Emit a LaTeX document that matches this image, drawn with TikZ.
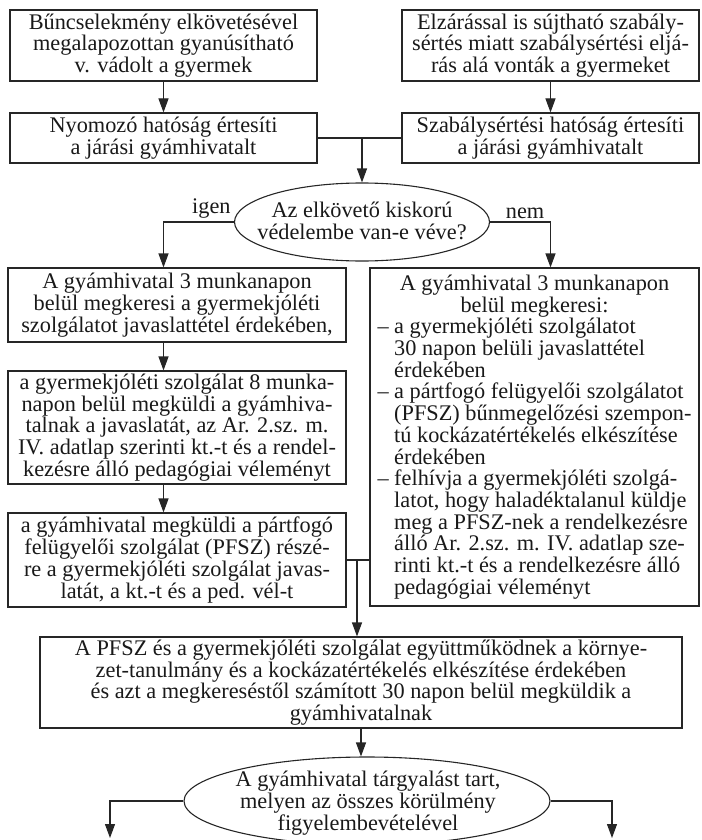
\documentclass[tikz,border=0pt]{standalone}
\usepackage{fontspec}
\setmainfont{Liberation Serif}
\usetikzlibrary{arrows.meta,shapes.geometric}
\newcommand\hind{\hphantom{–\ }}
\begin{document}
\begin{tikzpicture}[x=1pt,y=-1pt,
  every node/.style={font=\fontsize{22.3}{21.7}\selectfont, text=black!90},
  box/.style={draw=black!85, line width=1.1pt, rectangle, inner sep=2pt, align=center},
  oval/.style={draw=black!85, line width=1.1pt, ellipse, inner sep=0pt},
  conn/.style={draw=black!85, line width=1.1pt},
  arr/.style={conn, -{Triangle[length=14pt,width=10pt]}},
  lbl/.style={inner sep=0pt, align=center}
]
\useasboundingbox (0,0) rectangle (701,840);

% top row
\node[box, minimum width=307, minimum height=71] (b1) at (163.5,45.5)
  {Bűncselekmény elkövetésével\\megalapozottan gyanúsítható\\v. vádolt a gyermek};
\node[box, minimum width=307, minimum height=50] (b2) at (163.5,138)
  {Nyomozó hatóság értesíti\\a járási gyámhivatalt};
\node[box, minimum width=297, minimum height=71] (b3) at (550.5,45.5)
  {Elzárással is sújtható szabály-\\sértés miatt szabálysértési eljá-\\rás alá vonták a gyermeket};
\node[box, minimum width=297, minimum height=50] (b4) at (550.5,138)
  {Szabálysértési hatóság értesíti\\a járási gyámhivatalt};

% decision 1
\node[oval, minimum width=255, minimum height=78] (e1) at (362,222) {};
\node[lbl] (e1t) at (362,221) {Az elkövető kiskorú\\védelembe van-e véve?};

% left column
\node[box, minimum width=338, minimum height=74] (b5) at (177,305)
  {A gyámhivatal 3 munkanapon\\belül megkeresi a gyermekjóléti\\szolgálatot javaslattétel érdekében,};
\node[box, minimum width=338, minimum height=113] (b7) at (177,427.5)
  {a gyermekjóléti szolgálat 8 munka-\\napon belül megküldi a gyámhiva-\\talnak a javaslatát, az Ar. 2.sz. m.\\IV. adatlap szerinti kt.-t és a rendel-\\kezésre álló pedagógiai véleményt};
\node[box, minimum width=338, minimum height=94] (b8) at (177,560)
  {a gyámhivatal megküldi a pártfogó\\felügyelői szolgálat (PFSZ) részé-\\re a gyermekjóléti szolgálat javas-\\latát, a kt.-t és a ped. vél-t};

% right column
\node[box, minimum width=329, minimum height=338, align=left] (b6) at (534.5,437)
  {\makebox[314pt][c]{A gyámhivatal 3 munkanapon}\\
  \makebox[314pt][c]{belül megkeresi:}\\
  – a gyermekjóléti szolgálatot\\
  \hind 30 napon belüli javaslattétel\\
  \hind érdekében\\
  – a pártfogó felügyelői szolgálatot\\
  \hind (PFSZ) bűnmegelőzési szempon-\\
  \hind tú kockázatértékelés elkészítése\\
  \hind érdekében\\
  – felhívja a gyermekjóléti szolgá-\\
  \hind latot, hogy haladéktalanul küldje\\
  \hind meg a PFSZ-nek a rendelkezésre\\
  \hind álló Ar. 2.sz. m. IV. adatlap sze-\\
  \hind rinti kt.-t és a rendelkezésre álló\\
  \hind pedagógiai véleményt};

% bottom
\node[box, minimum width=642, minimum height=91] (b9) at (361,682.5)
  {A PFSZ és a gyermekjóléti szolgálat együttműködnek a környe-\\zet-tanulmány és a kockázatértékelés elkészítése érdekében\\és azt a megkereséstől számított 30 napon belül megküldik a\\gyámhivatalnak};
\node[oval, minimum width=366, minimum height=88] (e2) at (367,801) {};
\node[lbl] (e2t) at (368,803) {A gyámhivatal tárgyalást tart,\\melyen az összes körülmény\\figyelembevételével};

\coordinate (o1) at (110,838);
\coordinate (o2) at (612,838);

% connectors
\draw[arr] (b1) -- (b2);
\draw[arr] (b3) -- (b4);
\draw[conn] (b2.east) -- (b4.west);
\draw[arr] (b2.east -| e1.north) -- (e1.north);
\draw[arr] (e1.west) -| node[pos=0.16, above=3pt, inner sep=0pt] (lig) {igen} (b5.north -| b1.south);
\draw[arr] (e1.east) -| node[pos=0.29, above=3pt, inner sep=0pt] (lnem) {nem} (b6.north -| b3.south);
\draw[arr] (b5.south -| b1.south) -- (b7.north -| b1.south);
\draw[arr] (b7.south -| b1.south) -- (b8.north -| b1.south);
\draw[conn] (b8.east) -- (b8.east -| b6.west);
\coordinate (j2) at (357,560);
\draw[arr] (j2) -- (j2 |- b9.north);
\draw[arr] (b9.south) -- (b9.south |- e2.north);
\draw[arr] (e2.west) -| (o1);
\draw[arr] (e2.east) -| (o2);
\end{tikzpicture}
\end{document}
